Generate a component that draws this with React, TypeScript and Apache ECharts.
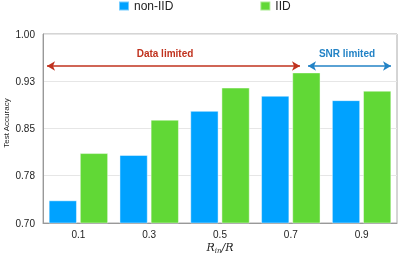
import React, { useEffect, useRef } from "react";
import * as echarts from "echarts";

const categories = ["0.1", "0.3", "0.5", "0.7", "0.9"];
const nonIID = [0.736, 0.808, 0.878, 0.902, 0.895];
const IID = [0.811, 0.864, 0.915, 0.939, 0.91];
const yTickLabels = ["0.70", "0.78", "0.85", "0.93", "1.00"];
const seriesNames = ["non-IID", "IID"];

const FONT = 'Helvetica, Arial, "Liberation Sans", sans-serif';
const SERIF = '"DejaVu Serif", "Liberation Serif", serif';
const RED = "#C0321E";
const BLUE = "#2383C6";

export default function App() {
  const ref = useRef<HTMLDivElement>(null);
  useEffect(() => {
    if (!ref.current) return;
    const chart = echarts.init(ref.current, undefined, { renderer: "svg" });
    chart.setOption({
      animation: false,
      textStyle: { fontFamily: FONT },
      legend: {
        data: seriesNames,
        left: 118,
        top: 0,
        padding: 0,
        itemWidth: 10,
        itemHeight: 9,
        itemGap: 86,
        icon: "rect",
        textStyle: { fontSize: 12, color: "#222", fontFamily: FONT },
      },
      grid: {
        left: 43,
        right: 2,
        top: 34,
        bottom: 33,
        show: true,
        borderColor: "#aaa",
        borderWidth: 1,
        containLabel: false,
        outerBoundsMode: "none",
      },
      xAxis: {
        type: "category",
        data: categories,
        axisLine: { lineStyle: { color: "#999" } },
        axisTick: { show: false },
        axisLabel: { fontSize: 10, color: "#222", margin: 6, fontFamily: FONT },
        name: "{i|R}{s|in}{i|/R}",
        nameLocation: "middle",
        nameGap: 17,
        nameMoveOverlap: false,
        nameTextStyle: {
          rich: {
            i: { fontFamily: SERIF, fontStyle: "italic", fontSize: 11, color: "#222", lineHeight: 14, verticalAlign: "middle" },
            s: { fontFamily: SERIF, fontStyle: "italic", fontSize: 7, color: "#222", lineHeight: 14, verticalAlign: "bottom" },
          },
        },
      },
      yAxis: {
        type: "value",
        min: 0.7,
        max: 1.0,
        interval: 0.075,
        axisLine: { show: true, lineStyle: { color: "#999" } },
        axisTick: { show: false },
        splitLine: { lineStyle: { color: "#e6e6e6" } },
        axisLabel: {
          fontSize: 10,
          color: "#222",
          margin: 8,
          fontFamily: FONT,
          formatter: (_v: number, i: number) => yTickLabels[i] ?? "",
        },
      },
      series: [
        {
          name: seriesNames[0],
          type: "bar",
          data: nonIID,
          barGap: "10%",
          barCategoryGap: "16%",
          itemStyle: { color: "#00A2FF", borderColor: "rgba(255,255,255,0.45)", borderWidth: 1 },
          markLine: {
            silent: true,
            symbol: ["arrow", "arrow"],
            symbolSize: [7, 8],
            label: { show: false },
            data: [
              [
                { x: 47, y: 66, lineStyle: { color: RED, width: 1.5, type: "solid" }, itemStyle: { color: RED } },
                { x: 300, y: 66 },
              ],
              [
                { x: 308, y: 66, lineStyle: { color: BLUE, width: 1.5, type: "solid" }, itemStyle: { color: BLUE } },
                { x: 391, y: 66 },
              ],
            ],
          },
        },
        {
          name: seriesNames[1],
          type: "bar",
          data: IID,
          itemStyle: { color: "#61D836", borderColor: "rgba(255,255,255,0.45)", borderWidth: 1 },
        },
      ],
      graphic: [
        {
          type: "text",
          x: 6,
          y: 123,
          rotation: Math.PI / 2,
          style: {
            text: "Test Accuracy",
            fill: "#222",
            font: `8px ${FONT}`,
            textAlign: "center",
            textVerticalAlign: "middle",
          },
        },
        {
          type: "text",
          x: 165,
          y: 53,
          style: {
            text: "Data limited",
            fill: RED,
            font: `bold 10px ${FONT}`,
            textAlign: "center",
            textVerticalAlign: "middle",
          },
        },
        {
          type: "text",
          x: 347,
          y: 53,
          style: {
            text: "SNR limited",
            fill: BLUE,
            font: `bold 10px ${FONT}`,
            textAlign: "center",
            textVerticalAlign: "middle",
          },
        },
      ],
    });
    return () => chart.dispose();
  }, []);
  return <div ref={ref} style={{ width: 399, height: 256, position: "fixed", left: 0, top: 0 }} />;
}
